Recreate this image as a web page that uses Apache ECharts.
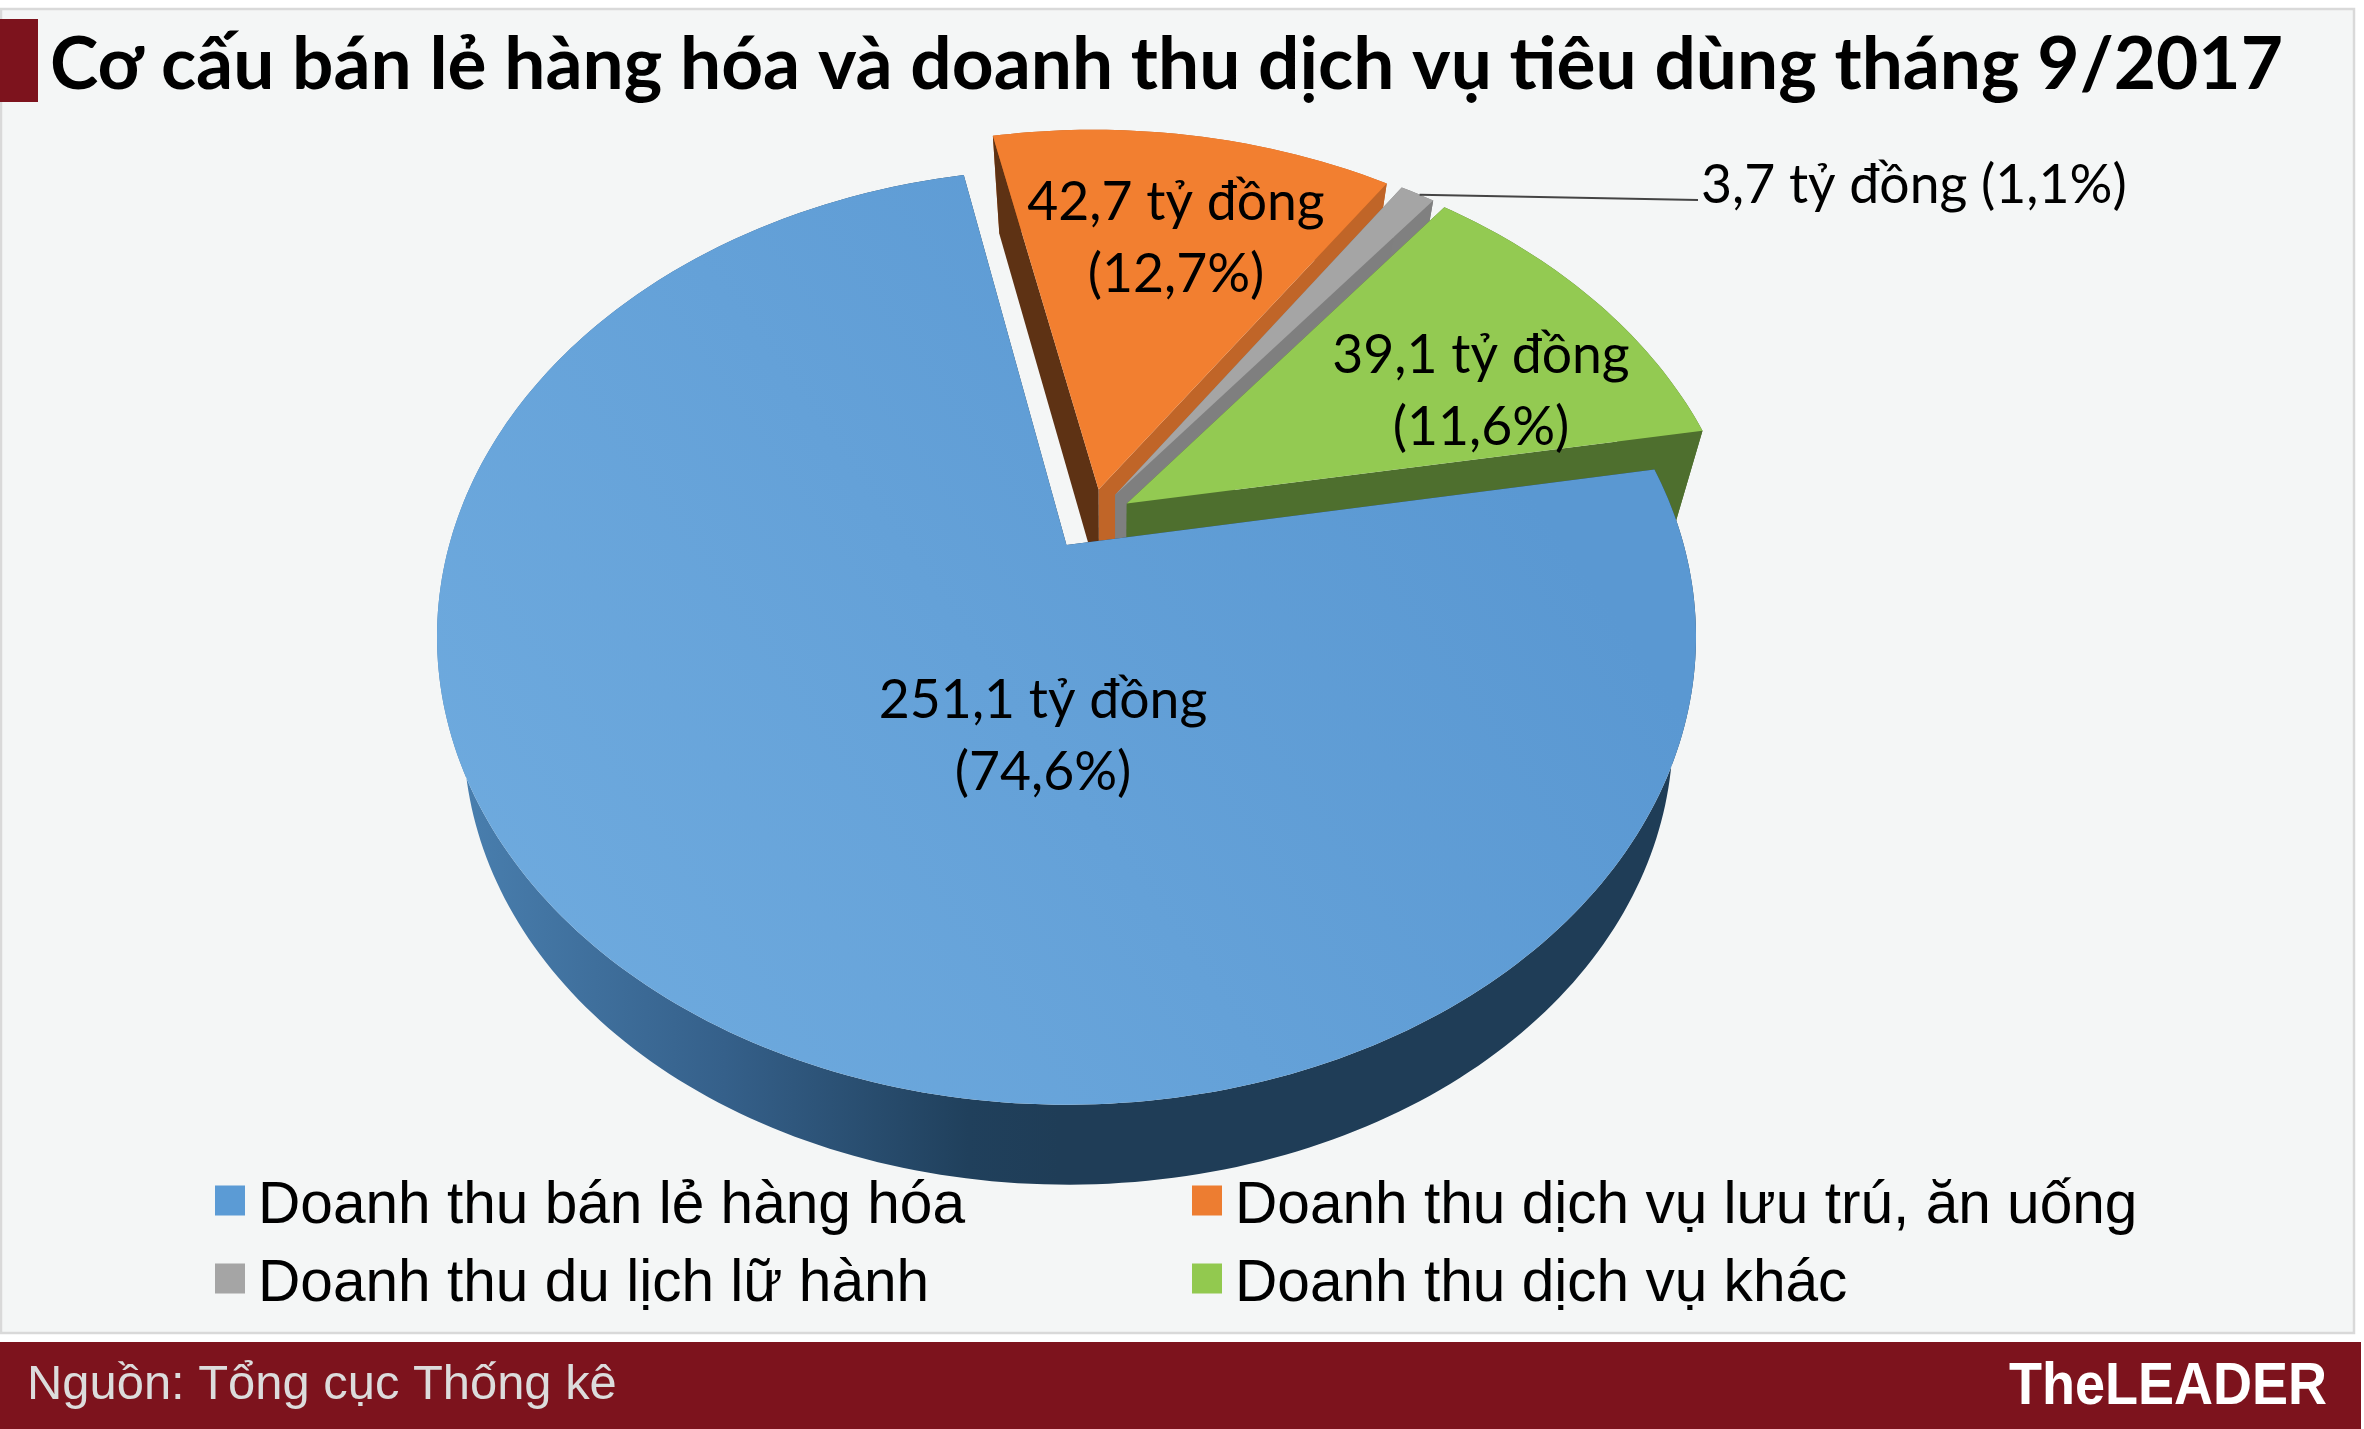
<!DOCTYPE html>
<html><head><meta charset="utf-8">
<script src="https://cdn.jsdelivr.net/npm/echarts@6/dist/echarts.min.js"></script>
<style>html,body{margin:0;padding:0;background:#fff}#c{width:2364px;height:1429px}</style>
</head><body><div id="c"></div>
<script>
const categories = ['Doanh thu bán lẻ hàng hóa','Doanh thu dịch vụ lưu trú, ăn uống','Doanh thu du lịch lữ hành','Doanh thu dịch vụ khác'];
const values = [251.1, 42.7, 3.7, 39.1];
const percents = [74.6, 12.7, 1.1, 11.6];
const unit = 'tỷ đồng';

const TITLE = 'Cơ cấu bán lẻ hàng hóa và doanh thu dịch vụ tiêu dùng tháng 9/2017';
const LABEL_FONT = 'Lato, "Noto Sans", sans-serif';
const SANS = '"Liberation Sans", Arial, sans-serif';
const total = values.reduce((a,b)=>a+b,0);
const D2R = Math.PI/180;

// Projection of the tilted pie: plane coords -> screen
const AX=1066.5, AY=545, KP=0.196, RY=450, RX=617.3, EXPL=0.07, FIRST=80;
function proj(u,v){const d=1-KP*v;return [AX+RX*u/d, AY+RY*v/d];}
function drop(p){const g=0.945+0.03*(p[1]-135)/970;return [1110+g*(p[0]-1110), p[1]+98-(p[1]-135)*0.0186];}

const tops = [
 {type:'linear',global:true,x:600,y:1080,x2:1500,y2:450,colorStops:[{offset:0,color:'#6eaade'},{offset:1,color:'#5a98d2'}]},
 '#f27f30','#a5a5a5','#93ca52'];
const walls = [
 {type:'linear',global:true,x:450,y:0,x2:1060,y2:0,colorStops:[{offset:0,color:'#4a80b0'},{offset:0.45,color:'#35608a'},{offset:0.85,color:'#20405c'},{offset:1,color:'#1f3d57'}]},
 '#c06528','#7f7f7f','#4e6f2e'];
const startFaces=['#1f3d57','#5e3214','#7f7f7f','#4e6f2e'];
const endFaces=['#1f3d57','#c06528','#808080','#4e6f2e'];
const legendColors=['#5b9bd5','#ed7d31','#a5a5a5','#92c94f'];
const labelPos=[[1043,737],[1176,239],null,[1481,392]];

function startAngle(i){let a=FIRST;for(let k=0;k<i;k++)a+=values[k]/total*360;return a;}
const dirOf=a=>[Math.sin(a*D2R),-Math.cos(a*D2R)];
const num=x=>x.toFixed(1).replace('.',',');

function sliceRender(i){
 return function(params,api){
  const val=api.value(0);
  const a0=startAngle(i), sweep=val/total*360, mid=a0+sweep/2;
  const d=dirOf(mid), d0=dirOf(FIRST+values[0]/total*180);
  const ou=EXPL*(d[0]-d0[0]), ov=EXPL*(d[1]-d0[1]);
  const arc=[];const n=Math.max(4,Math.ceil(sweep));
  for(let k=0;k<=n;k++){const t=dirOf(a0+sweep*k/n);arc.push(proj(t[0]+ou,t[1]+ov));}
  const apex=proj(ou,ov), bArc=arc.map(drop), bApex=drop(apex);
  const poly=(pts,fill)=>({type:'polygon',shape:{points:pts},style:{fill:fill,stroke:null}});
  const kids=[
   poly(arc.concat(bArc.slice().reverse()),walls[i]),
   poly([arc[arc.length-1],apex,bApex,bArc[arc.length-1]],endFaces[i]),
   poly([arc[0],apex,bApex,bArc[0]],startFaces[i]),
   poly([apex].concat(arc),tops[i])
  ];
  const txt=num(val)+' '+unit;
  if(labelPos[i]){
   kids.push({type:'text',style:{text:txt+'\n('+num(percents[i])+'%)',x:labelPos[i][0],y:labelPos[i][1],align:'center',verticalAlign:'middle',
     fontFamily:LABEL_FONT,fontSize:53.5,lineHeight:72,fill:'#000'}});
  } else {
   const m=arc[Math.floor(n/2)];
   kids.push({type:'polyline',shape:{points:[[m[0]+2,m[1]+1],[1698,200]]},style:{stroke:'#444',lineWidth:2,fill:null}});
   kids.push({type:'text',style:{text:txt+' ('+num(percents[i])+'%)',x:1701,y:186,align:'left',verticalAlign:'middle',
     fontFamily:LABEL_FONT,fontSize:53.5,fill:'#000'}});
  }
  return {type:'group',children:kids};
 };
}
const zOrder=[6,3,4,5];
const series=categories.map((name,i)=>({
 type:'custom',name:name,coordinateSystem:'none',z:zOrder[i],silent:true,animation:false,clip:false,
 itemStyle:{color:legendColors[i]},data:[[values[i]]],renderItem:sliceRender(i)
}));
const legendBase={orient:'vertical',icon:'rect',itemWidth:30,itemHeight:30,itemGap:19,selectedMode:false,padding:0,
 formatter:'{a|{name}}',
 textStyle:{fontFamily:SANS,fontSize:58.6,color:'#000',rich:{a:{fontFamily:SANS,fontSize:58.6,color:'#000',padding:[12,0,0,8]}}}};
const mkLegend=(idx,left)=>Object.assign({},legendBase,{left:left,top:1177,
 data:idx.map(i=>({name:categories[i],icon:'rect',itemStyle:{color:legendColors[i]}}))});

const chart=echarts.init(document.getElementById('c'),null,{renderer:'canvas'});
chart.setOption({
 animation:false,backgroundColor:'#fff',
 title:{text:TITLE,left:50,top:29,padding:0,textStyle:{fontFamily:LABEL_FONT,fontWeight:'bold',fontSize:73,color:'#000'}},
 legend:[mkLegend([0,2],215),mkLegend([1,3],1192)],
 graphic:{elements:[
  {type:'rect',z:0,shape:{x:1,y:9,width:2353,height:1324},style:{fill:'#f4f6f6',stroke:'#d9d9d9',lineWidth:2.5}},
  {type:'rect',z:1,shape:{x:0,y:19,width:38,height:83},style:{fill:'#7d131d'}},
  {type:'rect',z:1,shape:{x:0,y:1342,width:2361,height:87},style:{fill:'#7d131d'}},
  {type:'text',z:7,style:{text:'Nguồn: Tổng cục Thống kê',x:27,y:1386,verticalAlign:'middle',fontFamily:SANS,fontSize:48.9,fill:'#dcdcdc'}},
  {type:'text',z:7,scaleX:0.9,originX:2327,x:0,style:{text:'TheLEADER',x:2327,y:1387,align:'right',verticalAlign:'middle',fontFamily:SANS,fontWeight:'bold',fontSize:60,fill:'#fff'}}
 ]},
 series:series
});
</script></body></html>
